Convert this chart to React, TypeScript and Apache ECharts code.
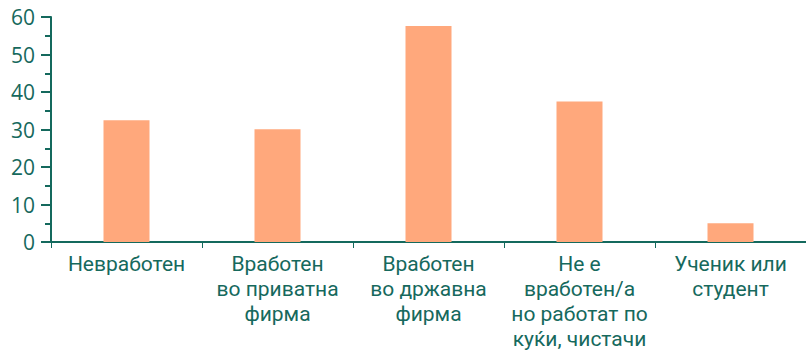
import React, { useEffect, useRef } from "react";
import * as echarts from "echarts";

const categories = [
  "Невработен",
  "Вработен\nво приватна\nфирма",
  "Вработен\nво државна\nфирма",
  "Не е\nвработен/а\nно работат по\nкуќи, чистачи",
  "Ученик или\nстудент",
];
const values = [32.5, 30.1, 57.6, 37.5, 5.0];
const yTicks = { min: 0, max: 60, interval: 10 };

const TEAL = "#14695d";
const TEXT = "#16695d";
const BAR = "#ffa87c";
const FONT = "'Open Sans', 'Noto Sans', sans-serif";
const XFONT = "Roboto, 'Open Sans', sans-serif";

export default function App() {
  const ref = useRef<HTMLDivElement>(null);
  useEffect(() => {
    const chart = echarts.init(ref.current!, null, { renderer: "svg" });
    chart.setOption({
      animation: false,
      grid: { left: 51, right: 0, top: 17, bottom: 107, containLabel: false },
      xAxis: {
        type: "category",
        data: categories,
        axisLine: { show: true, lineStyle: { color: TEAL, width: 2 } },
        axisTick: { show: true, length: 6, lineStyle: { color: TEAL, width: 1 } },
        axisLabel: {
          color: TEXT,
          fontFamily: XFONT,
          fontSize: 21,
          lineHeight: 25,
          margin: 9,
          interval: 0,
          align: "center",
        },
      },
      yAxis: {
        type: "value",
        min: yTicks.min,
        max: yTicks.max,
        interval: yTicks.interval,
        splitLine: { show: false },
        axisLine: { show: true, lineStyle: { color: TEAL, width: 2 } },
        axisTick: { show: true, length: 10, lineStyle: { color: TEAL, width: 2 } },
        minorTick: { show: true, splitNumber: 2, length: 6, lineStyle: { color: TEAL, width: 2 } },
        axisLabel: {
          color: TEXT,
          fontFamily: FONT,
          fontSize: 21,
          margin: 16,
        },
      },
      series: [
        {
          type: "bar",
          data: values,
          barWidth: 46,
          itemStyle: { color: BAR },
        },
      ],
    });
    return () => chart.dispose();
  }, []);
  return (
    <div
      ref={ref}
      style={{ position: "fixed", left: 0, top: 0, width: 806, height: 351, background: "#fff" }}
    />
  );
}
